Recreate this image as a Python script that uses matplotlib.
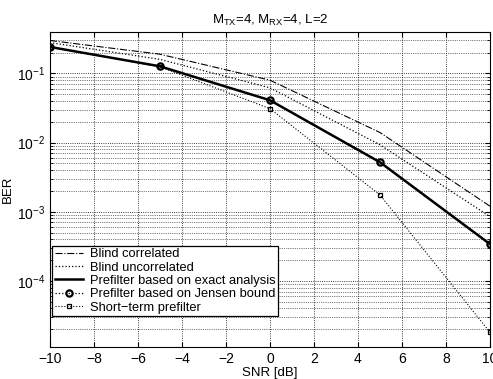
import matplotlib
matplotlib.use("Agg")
import matplotlib.pyplot as plt
from matplotlib.ticker import LogLocator, NullFormatter

plt.rcParams['font.family'] = ['Liberation Sans', 'DejaVu Sans']

snr = [-10, -5, 0, 5, 10]
blind_corr = [0.30, 0.19, 0.080, 0.0140, 1.2e-3]
blind_uncorr = [0.28, 0.16, 0.062, 0.0093, 8.5e-4]
exact = [0.242, 0.127, 0.041, 0.0052, 3.4e-4]
jensen = [0.242, 0.127, 0.041, 0.0052, 3.4e-4]
short_term = [0.242, 0.125, 0.031, 1.75e-3, 1.8e-5]

fig = plt.figure(figsize=(4.93, 3.79), dpi=100)
ax = fig.add_axes([0.101, 0.084, 0.893, 0.832])

ax.semilogy(snr, blind_corr, color='k', ls='-.', lw=0.8, label='Blind correlated')
ax.semilogy(snr, blind_uncorr, color='k', ls=':', lw=0.9, label='Blind uncorrelated')
ax.semilogy(snr, exact, color='k', ls='-', lw=1.8, label='Prefilter based on exact analysis')
ax.semilogy(snr, jensen, color='k', ls=':', lw=0.9, marker='o', ms=4.5, mfc='none',
            mew=1.6, label='Prefilter based on Jensen bound')
ax.semilogy(snr, short_term, color='k', ls=':', lw=0.8, marker='s', ms=3.5, mfc='none',
            mew=0.9, label='Short\u2212term prefilter')

ax.set_xlim(-10, 10)
ax.set_ylim(1.1e-5, 0.4)
ax.set_xticks(range(-10, 11, 2))
ax.set_xticklabels([str(v).replace('-', '\u2212') for v in range(-10, 11, 2)])
ax.yaxis.set_major_locator(LogLocator(base=10, numticks=10))
ax.yaxis.set_minor_locator(LogLocator(base=10, subs=range(2, 10), numticks=20))
ax.yaxis.set_minor_formatter(NullFormatter())
ax.tick_params(direction='in', labelsize=10, which='both', top=True, right=True)
ax.grid(True, which='major', ls=':', color='k', lw=0.6)
ax.grid(True, which='minor', axis='y', ls=':', color='k', lw=0.5)

ax.set_xlabel('SNR [dB]', fontsize=9.5, labelpad=1)
ax.set_ylabel('BER', fontsize=9.5, labelpad=2)
ax.set_title(r'$\mathregular{M_{TX}}$=4, $\mathregular{M_{RX}}$=4, L=2', fontsize=9.5, pad=6)

leg = ax.legend(loc='lower left', bbox_to_anchor=(0.0, 0.09), fontsize=9.3, frameon=True,
                fancybox=False, edgecolor='k', framealpha=1, borderpad=0.2,
                labelspacing=0.1, handlelength=2.2, handletextpad=0.5, borderaxespad=0.2)
leg.get_frame().set_linewidth(0.9)

fig.savefig('out.png', dpi=100)
